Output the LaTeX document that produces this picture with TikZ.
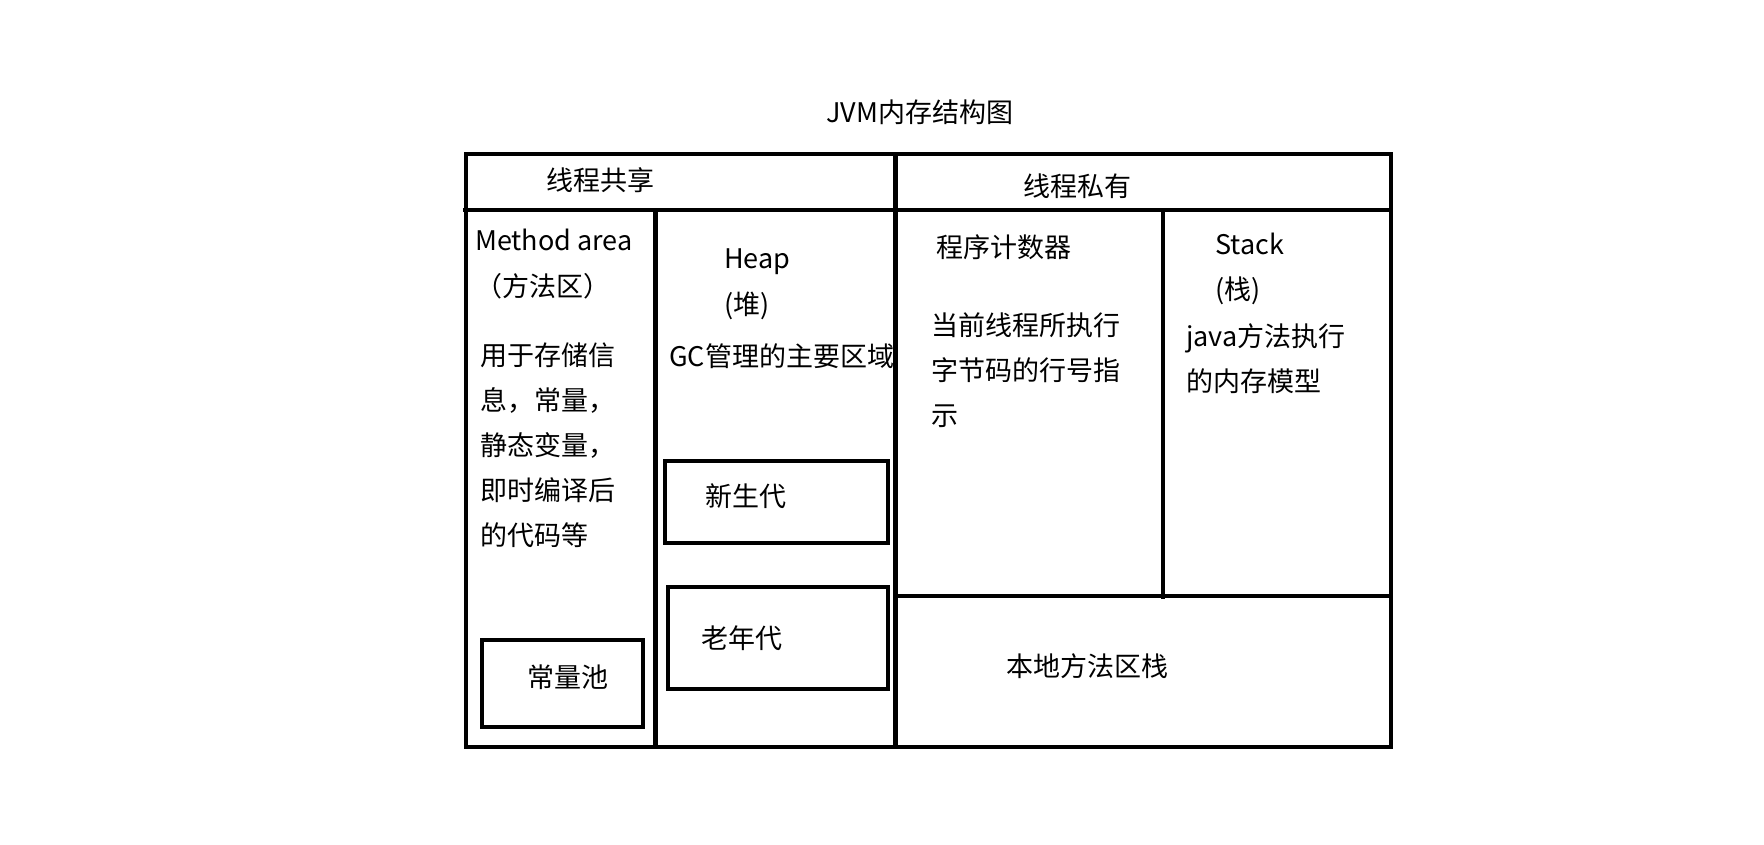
\documentclass[tikz,border=0pt]{standalone}
\usepackage{fontspec}
\setmainfont{Noto Sans CJK SC}
\begin{document}
\begin{tikzpicture}[x=1pt,y=-1pt,
  frame/.style={line width=4.8pt, draw=black},
  lbl/.style={anchor=base west, inner sep=0pt, text=black,
    font=\fontsize{27}{45}\selectfont, align=left}]
\useasboundingbox (0,0) rectangle (1764,844);

% title
\node[lbl] (title) at (826,122) {JVM内存结构图};

% outer frame and partitions
\draw[frame] (466,154) rectangle (1391,747);
\draw[frame] (463,210) -- (1391,210);
\draw[frame] (895.5,154) -- (895.5,747);
\draw[frame] (655.5,210) -- (655.5,747);
\draw[frame] (1163,210) -- (1163,599);
\draw[frame] (895.5,596) -- (1391,596);

% inner boxes
\draw[frame] (482,640) rectangle (643,727);
\draw[frame] (665,461) rectangle (888,543);
\draw[frame] (668,587) rectangle (888,689);

% headers
\node[lbl] (shared) at (546,190) {线程共享};
\node[lbl] (private) at (1023,196) {线程私有};

% method area (multi-line nodes sit on the baseline of their last line)
\node[lbl] (method) at (475,250) {Method area};
\node[lbl] (methodcn) at (475,296) {（方法区）};
\node[lbl] (methoddesc) at (480,545) {用于存储信\\息，常量，\\静态变量，\\即时编译后\\的代码等};
\node[lbl] (pool) at (527,687) {常量池};

% heap
\node[lbl] (heap) at (724,268) {Heap};
\node[lbl] (heapcn) at (724,314) {(堆)};
\node[lbl] (heapdesc) at (669,366) {GC管理的主要区域};
\node[lbl] (young) at (705,506) {新生代};
\node[lbl] (old) at (701,648) {老年代};

% program counter
\node[lbl] (pc) at (936,257) {程序计数器};
\node[lbl] (pcdesc) at (931,425) {当前线程所执行\\字节码的行号指\\示};

% stack
\node[lbl] (stack) at (1215,254) {Stack};
\node[lbl] (stackcn) at (1215,299) {(栈)};
\node[lbl] (stackdesc) at (1186,391) {java方法执行\\的内存模型};

% native method stack
\node[lbl] (native) at (1006,676) {本地方法区栈};
\end{tikzpicture}
\end{document}
